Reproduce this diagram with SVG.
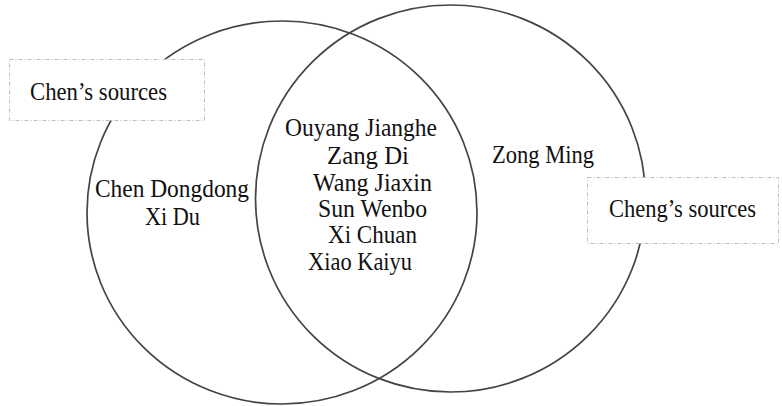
<svg xmlns="http://www.w3.org/2000/svg" width="782" height="406" viewBox="0 0 782 406">
  <style>
    .set { fill: none; stroke: #444; stroke-width: 1.7; }
    .box { fill: #fff; stroke: #bdbdbd; stroke-width: 1; stroke-dasharray: 4 2 1 2; }
    text { font-family: "Liberation Serif", "DejaVu Serif", serif; font-size: 25px; fill: #111; }
  </style>
  <rect width="782" height="406" fill="#fff"/>
  <g id="set-chen">
    <ellipse class="set" cx="282" cy="212.5" rx="195" ry="191.5"/>
  </g>
  <g id="set-cheng">
    <ellipse class="set" cx="450.5" cy="198.5" rx="195" ry="193.5"/>
  </g>
  <g id="label-chen">
    <rect class="box" x="9.5" y="59.5" width="195" height="61"/>
    <text x="30" y="100" textLength="137" lengthAdjust="spacingAndGlyphs">Chen’s sources</text>
  </g>
  <g id="label-cheng">
    <rect class="box" x="587.5" y="177.5" width="191" height="66"/>
    <text x="609" y="217" textLength="147" lengthAdjust="spacingAndGlyphs">Cheng’s sources</text>
  </g>
  <g id="only-chen">
    <text x="95" y="197" textLength="154" lengthAdjust="spacingAndGlyphs">Chen Dongdong</text>
    <text x="145" y="225" textLength="55" lengthAdjust="spacingAndGlyphs">Xi Du</text>
  </g>
  <g id="both">
    <text x="285" y="136" textLength="152" lengthAdjust="spacingAndGlyphs">Ouyang Jianghe</text>
    <text x="327" y="164" textLength="82" lengthAdjust="spacingAndGlyphs">Zang Di</text>
    <text x="313" y="191" textLength="119" lengthAdjust="spacingAndGlyphs">Wang Jiaxin</text>
    <text x="318" y="217" textLength="109" lengthAdjust="spacingAndGlyphs">Sun Wenbo</text>
    <text x="328" y="243" textLength="89" lengthAdjust="spacingAndGlyphs">Xi Chuan</text>
    <text x="308" y="270" textLength="104" lengthAdjust="spacingAndGlyphs">Xiao Kaiyu</text>
  </g>
  <g id="only-cheng">
    <text x="492" y="163" textLength="102" lengthAdjust="spacingAndGlyphs">Zong Ming</text>
  </g>
</svg>
